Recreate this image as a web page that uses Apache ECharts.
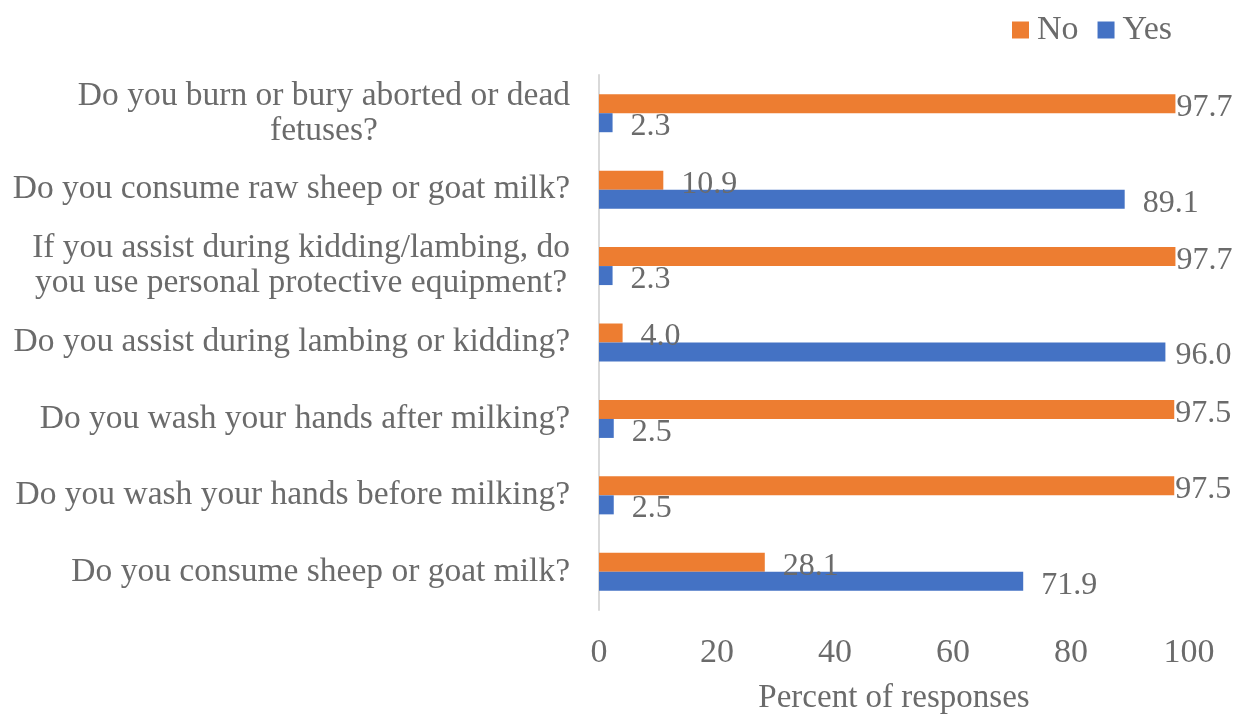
<!DOCTYPE html>
<html>
<head>
<meta charset="utf-8">
<script src="https://cdn.jsdelivr.net/npm/echarts@6/dist/echarts.min.js"></script>
<style>html,body{margin:0;padding:0;background:#fff;}#c{width:1237px;height:720px;}</style>
</head>
<body>
<div id="c"></div>
<script>
// Categories listed bottom-to-top
const categories = [
  "Do you consume sheep or goat milk?",
  "Do you wash your hands before milking?",
  "Do you wash your hands after milking?",
  "Do you assist during lambing or kidding?",
  "If you assist during kidding/lambing, do\nyou use personal protective equipment?",
  "Do you consume raw sheep or goat milk?",
  "Do you burn or bury aborted or dead\nfetuses?"
];
const yesValues = [71.9, 2.5, 2.5, 96.0, 2.3, 89.1, 2.3];
const noValues  = [28.1, 97.5, 97.5, 4.0, 97.7, 10.9, 97.7];
const seriesNames = ["No", "Yes"];

const FONT = "Liberation Serif";
const TXT = "#6b6b6b";

function labelDist(v) { return v > 97 ? 1 : (v > 95 ? 10 : 18); }
function toData(arr) {
  return arr.map(v => ({ value: v, label: { distance: labelDist(v) } }));
}

const chart = echarts.init(document.getElementById('c'));
chart.setOption({
  animation: false,
  backgroundColor: '#ffffff',
  textStyle: { fontFamily: FONT },
  legend: {
    data: seriesNames,
    right: 60, top: 8,
    icon: 'rect', itemWidth: 17, itemHeight: 17, itemGap: 19,
    textStyle: { fontFamily: FONT, fontSize: 34, color: TXT, padding: [0, 0, 0, 3] }
  },
  grid: { left: 599, right: 48, top: 75, bottom: 105, containLabel: false },
  xAxis: {
    type: 'value', min: 0, max: 100, interval: 20,
    axisLine: { show: false }, axisTick: { show: false },
    splitLine: { show: false },
    axisLabel: { fontFamily: FONT, fontSize: 34, color: TXT, margin: 26 },
    name: 'Percent of responses', nameLocation: 'middle', nameGap: 72,
    nameTextStyle: { fontFamily: FONT, fontSize: 33, color: TXT }
  },
  yAxis: {
    type: 'category', data: categories,
    axisLine: { show: true, lineStyle: { color: '#d9d9d9', width: 2 } },
    axisTick: { show: false },
    axisLabel: {
      fontFamily: FONT, fontSize: 33.5, color: TXT, margin: 29, lineHeight: 35,
      formatter: function (v) {
        return v.split('\n').map(l => '{c|' + l + '}').join('\n');
      },
      rich: { c: { align: 'center', fontFamily: FONT, fontSize: 33.5, color: TXT, lineHeight: 35 } }
    }
  },
  series: [
    {
      name: 'No', type: 'bar', data: toData(noValues),
      barWidth: 19, barGap: '0%',
      itemStyle: { color: '#ED7D31' },
      label: { show: true, position: 'right', fontFamily: FONT, fontSize: 32, color: TXT,
               formatter: p => p.value.toFixed(1), offset: [0, 4] }
    },
    {
      name: 'Yes', type: 'bar', data: toData(yesValues),
      barWidth: 19, barGap: '0%',
      itemStyle: { color: '#4472C4' },
      label: { show: true, position: 'right', fontFamily: FONT, fontSize: 32, color: TXT,
               formatter: p => p.value.toFixed(1), offset: [0, 4] }
    }
  ]
});
</script>
</body>
</html>
